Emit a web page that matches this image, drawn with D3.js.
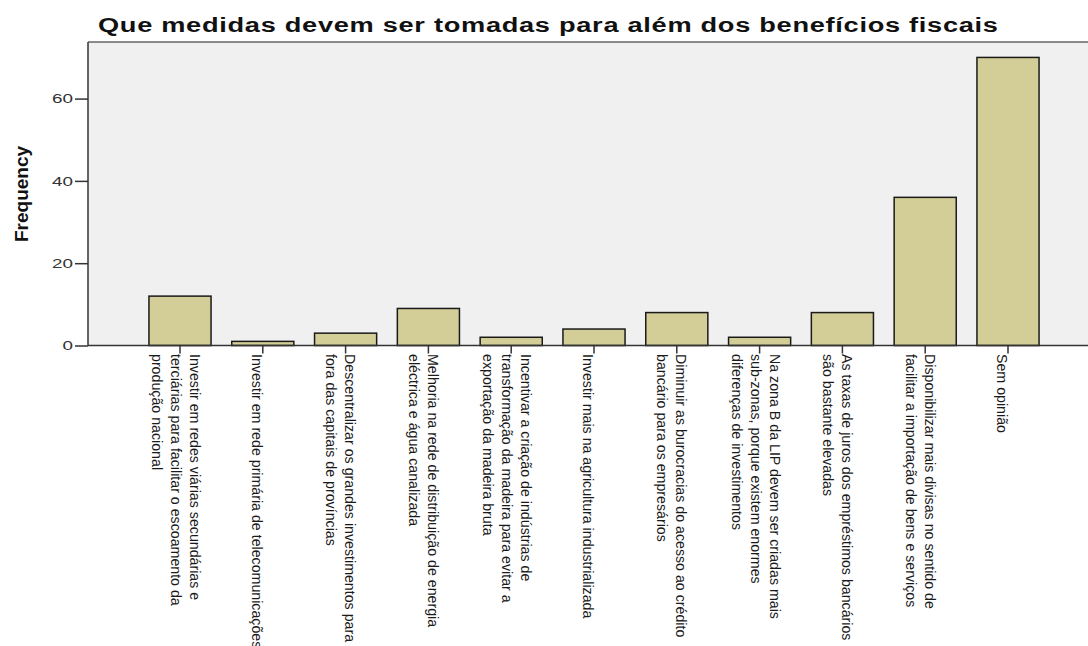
<!DOCTYPE html>
<meta charset="utf-8">
<style>
body { margin: 0; background: #fff; }
svg { display: block; background-color: #ffffff; }
.axis path, .axis line { fill: none; stroke: #333; stroke-width: 1.5px; }
.axis text { font: 13px "Liberation Sans", Arial, sans-serif; fill: #333; }
.xlabel { font: 14px "Liberation Sans", Arial, sans-serif; fill: #1a1a1a; }
</style>
<svg width="1088" height="646"></svg>
<script src="https://d3js.org/d3.v7.min.js"></script>
<script>

// categories (label lines as drawn under the bars)
var categories = [
  ["Investir em redes viárias secundárias e", "terciárias para facilitar o escoamento da", "produção nacional"],
  ["Investir em rede primária de telecomunicações"],
  ["Descentralizar os grandes investimentos para", "fora das capitais de províncias"],
  ["Melhoria na rede de distribuição de energia", "eléctrica e água canalizada"],
  ["Incentivar a criação de indústrias de", "transformação da madeira para evitar a", "exportação da madeira bruta"],
  ["Investir mais na agricultura industrializada"],
  ["Diminuir as burocracias do acesso ao crédito", "bancário para os empresários"],
  ["Na zona B da LIP devem ser criadas mais", "sub-zonas, porque existem enormes", "diferenças de investimentos"],
  ["As taxas de juros dos empréstimos bancários", "são bastante elevadas"],
  ["Disponibilizar mais divisas no sentido de", "facilitar a importação de bens e serviços"],
  ["Sem opinião"]
];
var frequencies = [12, 1, 3, 9, 2, 4, 8, 2, 8, 36, 70];
var yTicks = [0, 20, 40, 60];

var svg = d3.select("svg"),
    plot = {left: 88, top: 42, right: 1100, bottom: 345.5};

var data = categories.map(function(c, i) { return {id: i, lines: c, value: frequencies[i]}; });

var x = d3.scaleBand()
    .domain(data.map(function(d) { return d.id; }))
    .range([138.6, 1049.4])
    .paddingInner(0.25)
    .paddingOuter(0.125);

var y = d3.scaleLinear()
    .domain([0, 73.75])
    .range([plot.bottom, plot.top]);

// title (stretched wide like the original)
svg.append("g")
    .attr("transform", "translate(98,31.5) scale(1.36,1)")
  .append("text")
    .attr("textLength", 900 / 1.36)
    .attr("lengthAdjust", "spacing")
    .style("font", "bold 20px 'Liberation Sans', Arial, sans-serif")
    .style("fill", "#111")
    .text("Que medidas devem ser tomadas para além dos benefícios fiscais");

// plot background
svg.append("rect")
    .attr("x", plot.left)
    .attr("y", plot.top)
    .attr("width", plot.right - plot.left)
    .attr("height", plot.bottom - plot.top)
    .style("fill", "#f0f0f0");

svg.append("line")
    .attr("x1", plot.left).attr("x2", plot.right)
    .attr("y1", plot.top).attr("y2", plot.top)
    .style("stroke", "#666").style("stroke-width", 1.5);

// bars
svg.append("g")
  .selectAll("rect")
  .data(data)
  .enter().append("rect")
    .attr("x", function(d) { return x(d.id); })
    .attr("y", function(d) { return y(d.value); })
    .attr("width", x.bandwidth())
    .attr("height", function(d) { return y(0) - y(d.value); })
    .style("fill", "#d3ce97")
    .style("stroke", "#1a1a1a")
    .style("stroke-width", 1.5);

// y axis
var yAxis = svg.append("g")
    .attr("class", "axis")
    .attr("transform", "translate(" + plot.left + ",0)")
    .call(d3.axisLeft(y).tickValues(yTicks).tickSize(13).tickPadding(2).tickSizeOuter(0));
yAxis.select(".domain").attr("d", "M0," + plot.top + "V" + plot.bottom);
yAxis.selectAll(".tick text")
    .attr("x", -15 / 1.45)
    .attr("transform", "scale(1.45,1)");

svg.append("text")
    .attr("transform", "translate(28,194) rotate(-90)")
    .attr("text-anchor", "middle")
    .style("font", "bold 19px 'Liberation Sans', Arial, sans-serif")
    .style("fill", "#111")
    .text("Frequency");

// x axis baseline and ticks
svg.append("line")
    .attr("x1", plot.left).attr("x2", plot.right)
    .attr("y1", y(0)).attr("y2", y(0))
    .style("stroke", "#333").style("stroke-width", 1.5);

var xt = svg.append("g")
  .selectAll("g")
  .data(data)
  .enter().append("g")
    .attr("transform", function(d) { return "translate(" + (x(d.id) + x.bandwidth() / 2) + "," + y(0) + ")"; });

xt.append("line")
    .attr("y1", 0).attr("y2", 8)
    .style("stroke", "#333").style("stroke-width", 1.5);

// rotated labels, reading downwards, block roughly centred on the tick
xt.append("text")
    .attr("class", "xlabel")
    .attr("transform", "translate(0,8.5) rotate(90) scale(1.015,1)")
    .each(function(d) {
      var t = d3.select(this), n = d.lines.length;
      d.lines.forEach(function(line, k) {
        t.append("tspan")
            .attr("x", 0)
            .attr("y", 11 - (n - 1) * 10.5 + k * 19)
            .text(line);
      });
    });

</script>
